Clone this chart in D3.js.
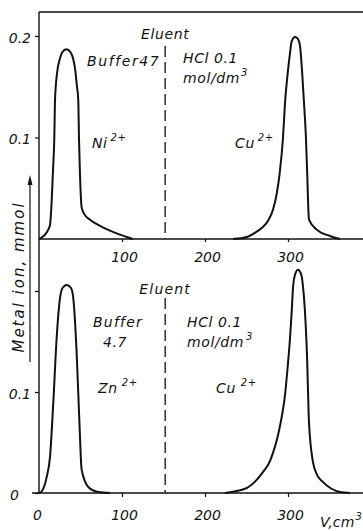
<!DOCTYPE html>
<html>
<head>
<meta charset="utf-8">
<script src="https://cdn.jsdelivr.net/npm/d3@7"></script>
<style>
    body { margin: 0; background: #fff; }
    svg text { font-family: 'DejaVu Sans', sans-serif; font-style: italic; font-size: 14px; fill: #111; }
</style>
</head>
<body>
<svg id="chart" width="363" height="531"></svg>
<script>
// [volume cm3, metal ion mmol]
const niPeak = [[0,0],[4,0.002],[8,0.005],[11,0.009],[13.3,0.014],[15.3,0.038],[17,0.07],[18.4,0.098],[19.3,0.137],[22,0.165],[25,0.177],[28,0.184],[33,0.187],[38,0.184],[41,0.178],[43.4,0.168],[45.5,0.152],[47.3,0.137],[48.2,0.098],[49.4,0.063],[51.4,0.031],[55,0.024],[61.4,0.019],[73.5,0.013],[89,0.007],[105.6,0.002],[113,0]];
const cuPeakTop = [[233.7,0],[250.6,0.002],[260,0.006],[268.7,0.011],[276,0.018],[282,0.029],[286.5,0.045],[290,0.065],[294,0.1],[296.4,0.134],[300,0.166],[302.4,0.183],[304.5,0.195],[308.4,0.199],[312,0.197],[314.5,0.19],[316.9,0.166],[319.3,0.134],[321.7,0.098],[323,0.068],[325.3,0.019],[335,0.009],[350.6,0.003],[362.7,0]];
const znPeak = [[0,0],[3.6,0.002],[9.3,0.016],[13.3,0.036],[17.2,0.089],[21.3,0.154],[25.3,0.193],[28.3,0.203],[33.4,0.206],[38.6,0.203],[41.3,0.193],[45.4,0.138],[48.6,0.072],[51.4,0.023],[59.4,0.006],[71.4,0.001],[85.5,0]];
const cuPeakBottom = [[224,0],[238,0.002],[250.6,0.005],[260,0.011],[270,0.021],[278,0.031],[282,0.04],[286.7,0.053],[290,0.065],[293,0.078],[296.4,0.097],[299.5,0.124],[302.4,0.153],[304.5,0.18],[306,0.203],[308.4,0.216],[312,0.221],[315.7,0.217],[318,0.205],[322.9,0.136],[325.3,0.07],[330,0.031],[335,0.018],[342,0.011],[362.7,0.001],[374.7,0]];

const volTicksTop = [100, 200, 300];
const volTicksBottom = [0, 100, 200, 300];
const ionTicksTop = [0.1, 0.2];
const ionTicksBottom = [0, 0.1, 0.2];
const eluentSwitch = 152;

const svg = d3.select('#chart');

const x = d3.scaleLinear().domain([0, 390]).range([39, 362.7]);
const yTop = d3.scaleLinear().domain([0, 0.2236]).range([239, 12]);
const yBot = d3.scaleLinear().domain([0, 0.2515]).range([493, 239]);

const fmt = d => d === 0 ? '0' : d3.format('.1f')(d);

// frame lines
svg.append('line')
    .attr('x1', x(0)).attr('x2', 363)
    .attr('y1', yTop(0.2236)).attr('y2', yTop(0.2236))
    .attr('stroke', '#111').attr('stroke-width', 1.6);
svg.append('line')
    .attr('x1', x(0)).attr('x2', x(0))
    .attr('y1', yTop(0.2236)).attr('y2', yBot(0))
    .attr('stroke', '#111').attr('stroke-width', 1.4);
svg.append('line')
    .attr('x1', x(0)).attr('x2', 363)
    .attr('y1', yTop(0)).attr('y2', yTop(0))
    .attr('stroke', '#111').attr('stroke-width', 1.4);
svg.append('line')
    .attr('x1', 32).attr('x2', 363)
    .attr('y1', yBot(0)).attr('y2', yBot(0))
    .attr('stroke', '#111').attr('stroke-width', 1.4);

// axes
function styleAxis(g) {
    g.select('.domain').remove();
    g.selectAll('line').attr('stroke', '#111').attr('stroke-width', 1.2);
    g.selectAll('text').attr('font-family', null).attr('font-size', null).attr('fill', '#111');
}

svg.append('g')
    .attr('transform', `translate(${x(0)},0)`)
    .call(d3.axisLeft(yTop).tickValues(ionTicksTop).tickSize(4).tickPadding(4).tickFormat(fmt))
    .call(styleAxis)
    .selectAll('text').attr('dy', '0.45em');

svg.append('g')
    .attr('transform', `translate(${x(0)},0)`)
    .call(d3.axisLeft(yBot).tickValues(ionTicksBottom).tickSize(4).tickPadding(4)
        .tickFormat(d => d === 0.2 ? '' : fmt(d)))
    .call(styleAxis)
    .selectAll('text')
    .attr('dy', '0.45em')
    .attr('dx', d => d === 0 ? -12 : 0);

svg.append('g')
    .attr('transform', `translate(0,${yTop(0)})`)
    .call(d3.axisBottom(x).tickValues(volTicksTop).tickSize(3).tickPadding(10).tickFormat(d3.format('d')))
    .call(styleAxis)
    .selectAll('text').attr('dx', 2);

svg.append('g')
    .attr('transform', `translate(0,${yBot(0)})`)
    .call(d3.axisBottom(x).tickValues(volTicksBottom).tickSize(4).tickPadding(13).tickFormat(d3.format('d')))
    .call(styleAxis)
    .call(g => g.selectAll('.tick line').filter(d => d === 0).remove())
    .selectAll('text').attr('dx', d => d === 0 ? -2 : 2);

// eluent change
[[yTop, 0.19], [yBot, 0.193]].forEach(([y, top]) => {
    svg.append('line')
        .attr('x1', x(eluentSwitch)).attr('x2', x(eluentSwitch))
        .attr('y1', y(top)).attr('y2', y(0))
        .attr('stroke', '#111').attr('stroke-width', 1.3)
        .attr('stroke-dasharray', '11,5');
});

// peaks
const lineTop = d3.line().x(d => x(d[0])).y(d => yTop(d[1])).curve(d3.curveMonotoneX);
const lineBot = d3.line().x(d => x(d[0])).y(d => yBot(d[1])).curve(d3.curveMonotoneX);

[[niPeak, lineTop], [cuPeakTop, lineTop], [znPeak, lineBot], [cuPeakBottom, lineBot]].forEach(([data, line]) => {
    svg.append('path')
        .datum(data)
        .attr('d', line)
        .attr('fill', 'none')
        .attr('stroke', '#111')
        .attr('stroke-width', 2);
});

// annotations
function label(tx, ty, text, sup, opts = {}) {
    const t = svg.append('text')
        .attr('x', tx).attr('y', ty)
        .attr('text-anchor', opts.anchor || 'start')
        .style('letter-spacing', opts.spacing || '0.6px')
        .text(text);
    if (sup) {
        t.append('tspan')
            .attr('dx', opts.supDx || 2).attr('dy', -7)
            .style('font-size', '10px')
            .text(sup);
    }
    return t;
}

label(x(eluentSwitch), 39, 'Eluent', null, { anchor: 'middle' });
label(87, 66, 'Buffer47', null, { spacing: '1.6px' });
label(183, 63, 'HCl 0.1');
label(183, 83, 'mol/dm', '3', { supDx: 1 });
label(92, 148, 'Ni', '2+', { supDx: 3 });
label(235, 148, 'Cu', '2+', { supDx: 3 });

label(x(eluentSwitch), 294, 'Eluent', null, { anchor: 'middle', spacing: '1.2px' });
label(93, 327, 'Buffer', null, { spacing: '1.2px' });
label(103, 347, '4.7');
label(187, 327, 'HCl  0.1');
label(187, 347, 'mol/dm', '3', { supDx: 2 });
label(98, 393, 'Zn', '2+', { supDx: 4 });
label(216, 393, 'Cu', '2+', { supDx: 5 });

label(320, 527, 'V,cm', '3', { spacing: '0.2px', supDx: 1 });

// y title with arrow
svg.append('text')
    .attr('transform', 'translate(24,277) rotate(-90)')
    .attr('text-anchor', 'middle')
    .style('font-size', '15px')
    .style('letter-spacing', '2px')
    .text('Metal ion, mmol');
svg.append('line')
    .attr('x1', 30).attr('x2', 30)
    .attr('y1', 362).attr('y2', 180)
    .attr('stroke', '#111').attr('stroke-width', 1.2);
svg.append('path')
    .attr('d', 'M27.5,185 L30,175 L32.5,185 Z')
    .attr('fill', '#111');
</script>
</body>
</html>
